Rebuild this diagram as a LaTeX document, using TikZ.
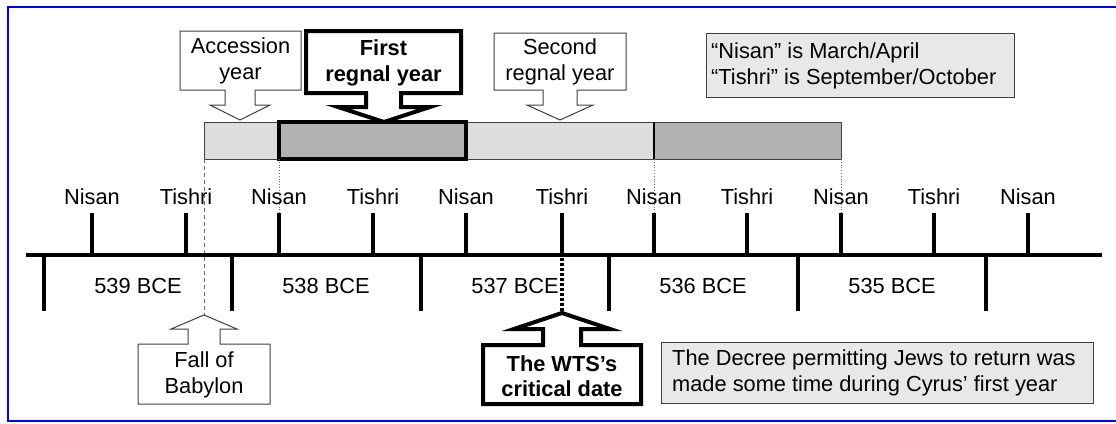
\documentclass[tikz,border=0pt]{standalone}
\usepackage{fontspec}
\setmainfont{Liberation Sans}
\usepackage{tikz}
\definecolor{clouds}{RGB}{232, 232, 232}
\definecolor{silver}{RGB}{221, 221, 221}
\definecolor{concrete}{RGB}{178, 178, 178}
\definecolor{graphite}{RGB}{64, 64, 64}
\definecolor{ashgray}{RGB}{110, 110, 110}
\definecolor{royal}{RGB}{0, 0, 255}

\begin{document}
\begin{tikzpicture}[x=1pt, y=-1pt, inner sep=0pt, font=\fontsize{21.8}{25.5}\selectfont]
            \useasboundingbox                                              (0, 0) rectangle (1116, 423);
            \draw[royal, line width=2.5pt]                                 (8, 7) rectangle (1130, 421);
            \filldraw[draw=graphite, fill=silver,   line width=1pt]        (204, 122) rectangle (279, 159);
            \filldraw[draw=graphite, fill=silver,   line width=1pt]        (466, 122) rectangle (654, 159);
            \filldraw[draw=graphite, fill=concrete, line width=1pt]        (654, 122) rectangle (841, 159);
            \draw[black, line width=2pt]                                   (654, 122) -- (654, 159);
            \filldraw[draw=black,    fill=concrete, line width=4pt]        (279, 122) rectangle (466, 159);
            \draw[ashgray, dotted, line width=0.8pt]                       (279, 159) -- (279, 213);
            \draw[ashgray, dotted, line width=0.8pt]                       (654, 159) -- (654, 213);
            \draw[ashgray, dotted, line width=0.8pt]                       (841, 159) -- (841, 213);
            \draw[ashgray, dash pattern=on 4pt off 3pt, line width=0.8pt]  (204, 159) -- (204, 315);
            \draw[black, line width=4pt, dash pattern=on 3pt off 2pt]      (562, 258) -- (562, 313);
            \draw[black, line width=4pt]                                   (26, 255) -- (1102, 255);
            \draw[black, line width=4pt]
                 (92, 213) -- (92, 255)   (186, 213) -- (186, 255)   (279, 213) -- (279, 255)
                 (373, 213) -- (373, 255) (466, 213) -- (466, 255)   (562, 213) -- (562, 255)
                 (654, 213) -- (654, 255) (747, 213) -- (747, 255)   (841, 213) -- (841, 255)
                 (934, 213) -- (934, 255) (1028, 213) -- (1028, 255);
            \draw[black, line width=4pt]
                 (44, 255) -- (44, 311)   (232, 255) -- (232, 311)   (421, 255) -- (421, 311)
                 (609, 255) -- (609, 311) (798, 255) -- (798, 311)   (986, 255) -- (986, 311);
            \node[anchor=base] (nisan1)  at (92, 204)   {Nisan};
            \node[anchor=base] (tishri1) at (186, 204)  {Tishri};
            \node[anchor=base] (nisan2)  at (279, 204)  {Nisan};
            \node[anchor=base] (tishri2) at (373, 204)  {Tishri};
            \node[anchor=base] (nisan3)  at (466, 204)  {Nisan};
            \node[anchor=base] (tishri3) at (562, 204)  {Tishri};
            \node[anchor=base] (nisan4)  at (654, 204)  {Nisan};
            \node[anchor=base] (tishri4) at (747, 204)  {Tishri};
            \node[anchor=base] (nisan5)  at (841, 204)  {Nisan};
            \node[anchor=base] (tishri5) at (934, 204)  {Tishri};
            \node[anchor=base] (nisan6)  at (1028, 204) {Nisan};
            \node[anchor=base] (bce539)  at (138, 293)  {539 BCE};
            \node[anchor=base] (bce538)  at (326, 293)  {538 BCE};
            \node[anchor=base] (bce537)  at (515, 293)  {537 BCE};
            \node[anchor=base] (bce536)  at (703, 293)  {536 BCE};
            \node[anchor=base] (bce535)  at (892, 293)  {535 BCE};
            \filldraw[draw=graphite, fill=white, line width=1pt]
                 (180, 31) -- (301, 31) -- (301, 90) -- (255, 90) -- (255, 105) -- (270, 105) -- (240, 120)
                 -- (210, 105) -- (225, 105) -- (225, 90) -- (180, 90) -- cycle;
            \node[align=center] (accession) at (240.5, 61) {Accession\\year};
            \filldraw[draw=black, fill=white, line width=4pt]
                 (306, 31) -- (461, 31) -- (461, 93) -- (401, 93) -- (401, 107) -- (430, 107) -- (384, 122)
                 -- (338, 107) -- (366, 107) -- (366, 93) -- (306, 93) -- cycle;
            \node[align=center, font=\fontsize{21.8}{25.5}\selectfont\bfseries] (firstyear) at (383.5, 63) {First\\regnal year};
            \filldraw[draw=graphite, fill=white, line width=1pt]
                 (494, 33) -- (626, 33) -- (626, 90) -- (577, 90) -- (577, 105) -- (593, 105) -- (560, 120)
                 -- (527, 105) -- (543, 105) -- (543, 90) -- (494, 90) -- cycle;
            \node[align=center] (secondyear) at (560, 62) {Second\\regnal year};
            \filldraw[draw=graphite, fill=clouds, line width=1pt]          (706, 33) rectangle (1014, 97);
            \node[anchor=west, align=left] (legend) at (711, 66) {“Nisan” is March/April\\“Tishri” is September/October};
            \filldraw[draw=graphite, fill=white, line width=1pt]
                 (138, 344) -- (188, 344) -- (188, 329) -- (171, 329) -- (204, 315) -- (237, 329) -- (220, 329)
                 -- (220, 344) -- (270, 344) -- (270, 404) -- (138, 404) -- cycle;
            \node[align=center] (fall) at (204, 375) {Fall of\\Babylon};
            \filldraw[draw=black, fill=white, line width=4pt]
                 (483, 345) -- (543, 345) -- (543, 329) -- (514, 329) -- (562, 313) -- (610, 329) -- (581, 329)
                 -- (581, 345) -- (641, 345) -- (641, 404) -- (483, 404) -- cycle;
            \node[align=center, font=\fontsize{21.8}{25.5}\selectfont\bfseries] (wts) at (562, 376) {The WTS’s\\critical date};
            \filldraw[draw=graphite, fill=clouds, line width=1pt]          (661, 342) rectangle (1093, 403);
            \node[anchor=west, align=left] (decree) at (672, 373) {The Decree permitting Jews to return was\\made some time during Cyrus’ first year};
\end{tikzpicture}
\end{document}
